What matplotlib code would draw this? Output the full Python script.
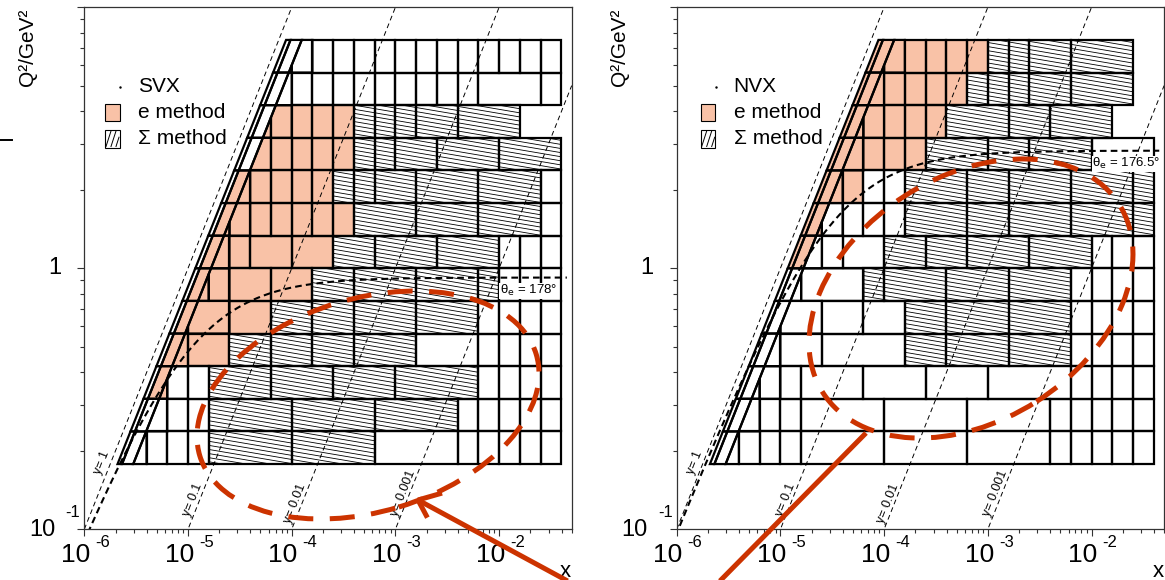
import numpy as np
import matplotlib
matplotlib.use("Agg")
import matplotlib.pyplot as plt
from matplotlib.patches import Polygon, Rectangle, Ellipse
from matplotlib.collections import LineCollection
from matplotlib.lines import Line2D
from matplotlib.transforms import IdentityTransform

plt.rcParams['font.family'] = ['Liberation Sans', 'DejaVu Sans']

W, H, DPI = 1165, 580, 100

# HERA kinematics
S_EP = 1.0e5          # GeV^2
E_BEAM = 27.5         # GeV
Y_OUT, Y_MID, Y_IN = 0.85, 0.77, 0.6

# bin grid: log10(x) = -6 + 0.2 k, log10(Q2) = j / 8
X_START, X_STEP = -6.0, 0.2
Q2_STEP = 0.125
X_LIM = (1e-6, 10 ** -1.3)
Q2_LIM = (0.1, 10.0)

# rows: (j, outer strip, inner strip, x edges in k, method per bin)
# e = electron method, s = Sigma method, o = bin not used
svx_rows = [
    (6, 'o', 'o', [9, 10, 11, 12, 13, 14, 15, 16, 17, 18, 19, 20, 21, 22, 23], 'oooooooooooooo'),
    (5, 'o', 'o', [9, 10, 11, 12, 13, 14, 15, 16, 17, 18, 19, 22, 23], 'oooooooooooo'),
    (4, 'o', 'o', [8, 9, 10, 11, 12, 13, 14, 15, 16, 18, 21], 'eeeeesssss'),
    (3, 'o', 'o', [7, 8, 9, 10, 11, 12, 13, 14, 15, 17, 20, 23], 'eeeeeesssss'),
    (2, 'o', 'e', [7, 8, 9, 10, 11, 12, 13, 14, 16, 19, 22, 23], 'eeeeessssso'),
    (1, 'o', 'e', [6, 7, 8, 9, 10, 11, 12, 13, 16, 19, 22, 23], 'eeeeeeessso'),
    (0, 'o', 'e', [6, 7, 8, 10, 12, 14, 17, 20, 21, 22, 23], 'eeeesssooo'),
    (-1, 'o', 'e', [5, 6, 7, 9, 11, 13, 16, 19, 20, 21, 22, 23], 'eeeessssoooo'),
    (-2, 'o', 'e', [4, 5, 7, 9, 11, 13, 16, 19, 20, 21, 22, 23], 'eeessssoooo'),
    (-3, 'o', 'e', [4, 5, 7, 9, 11, 13, 16, 19, 20, 21, 22, 23], 'eessssooooo'),
    (-4, 'o', 'e', [3, 4, 5, 6, 9, 12, 15, 19, 20, 21, 22, 23], 'eoossssoooo'),
    (-5, 'o', 'o', [2, 3, 4, 5, 6, 10, 14, 18, 19, 20, 21, 22, 23], 'oooosssooooo'),
    (-6, 'o', 'o', [2, 3, 4, 5, 6, 10, 14, 18, 19, 20, 21, 22, 23], 'oooossoooooo'),
]

nvx_rows = [
    (6, 'e', 'e', [9, 10, 11, 12, 13, 14, 15, 16, 17, 19, 22], 'eeeeeessss'),
    (5, 'e', 'e', [9, 10, 11, 12, 13, 14, 15, 16, 17, 19, 22], 'eeeeesssss'),
    (4, 'e', 'e', [8, 9, 10, 11, 12, 13, 16, 18, 21], 'eeeeesss'),
    (3, 'e', 'e', [7, 8, 9, 10, 11, 12, 15, 17, 20, 23], 'eeeeessso'),
    (2, 'e', 'e', [7, 8, 9, 10, 11, 14, 16, 19, 22, 23], 'eeoossssso'),
    (1, 'e', 'e', [6, 7, 8, 9, 10, 11, 14, 16, 19, 22, 23], 'eoooossssso'),
    (0, 'e', 'e', [6, 7, 8, 10, 12, 14, 17, 20, 21, 22, 23], 'ooossssooo'),
    (-1, 'o', 'o', [5, 6, 9, 10, 13, 16, 19, 20, 21, 22, 23], 'oossssoooo'),
    (-2, 'o', 'o', [4, 5, 7, 9, 11, 13, 16, 19, 20, 21, 22, 23], 'oooosssoooo'),
    (-3, 'o', 'o', [4, 5, 7, 11, 13, 16, 19, 20, 21, 22, 23], 'ooosssoooo'),
    (-4, 'o', 'o', [3, 4, 5, 6, 9, 12, 15, 19, 20, 21, 22, 23], 'ooooooooooo'),
    (-5, 'o', 'o', [2, 3, 4, 5, 6, 10, 14, 18, 19, 20, 21, 22, 23], 'oooooooooooo'),
    (-6, 'o', 'o', [2, 3, 4, 5, 6, 10, 14, 18, 19, 20, 21, 22, 23], 'oooooooooooo'),
]

y_lines = [1.0, 0.1, 0.01, 0.001]
y_line_labels = ['y= 1', 'y= 0.1', 'y= 0.01', 'y= 0.001']
y_label_q2 = [0.16, 0.11, 0.104, 0.11]
x_tick_exp = [-6, -5, -4, -3, -2]

E_COLOR = '#f9c2a7'
RED = '#cc3300'

# layout in pixels (from top-left of the image)
AX_TOP, AX_BOTTOM = 7.3, 529.3
AX_W = 487.4
panels = [
    dict(left=84.3, name='SVX', rows=svx_rows, theta=178.0, theta_txt='178°', leg_x=105.0),
    dict(left=676.7, name='NVX', rows=nvx_rows, theta=176.5, theta_txt='176.5°', leg_x=700.7),
]

HATCH_GAP_PX = 4.1
HATCH_SLOPE_PX = -0.17


def clip_poly(pts, c):
    # keep the part of a polygon in (log x, log Q2) with log x - log Q2 >= c
    out = []
    n = len(pts)
    for i in range(n):
        p, q = pts[i], pts[(i + 1) % n]
        fp, fq = p[0] - p[1] - c, q[0] - q[1] - c
        if fp >= 0:
            out.append(p)
        if fp * fq < 0:
            t = fp / (fp - fq)
            out.append((p[0] + t * (q[0] - p[0]), p[1] + t * (q[1] - p[1])))
    return out


def area(pts):
    if len(pts) < 3:
        return 0.0
    a = np.array(pts)
    return 0.5 * abs(np.dot(a[:, 0], np.roll(a[:, 1], 1)) - np.dot(a[:, 1], np.roll(a[:, 0], 1)))


def draw_bin(ax, pts, method):
    if area(pts) < 1e-5:
        return
    xy = 10.0 ** np.array(pts)
    face = E_COLOR if method == 'e' else 'white'
    fill = Polygon(xy, closed=True, facecolor=face, edgecolor='none', zorder=1)
    ax.add_patch(fill)
    if method == 's':
        gap = HATCH_GAP_PX / (AX_BOTTOM - AX_TOP)
        slope = HATCH_SLOPE_PX * AX_W / (AX_BOTTOM - AX_TOP)
        segs = [[(0, b), (1, b + slope)] for b in np.arange(-0.05, 1.25, gap)]
        lc = LineCollection(segs, transform=ax.transAxes, colors='black',
                            linewidths=0.6, zorder=1.5)
        lc.set_clip_path(fill)
        ax.add_collection(lc)
    ax.add_patch(Polygon(xy, closed=True, fill=False, edgecolor='black',
                         linewidth=1.6, joinstyle='miter', zorder=2))


def theta_curve(theta_deg, x):
    qmax = 4 * E_BEAM ** 2 / np.tan(np.radians(theta_deg) / 2) ** 2
    return qmax * S_EP * x / (S_EP * x + qmax), qmax


fig = plt.figure(figsize=(W / DPI, H / DPI), dpi=DPI)

c_out = -np.log10(S_EP * Y_OUT)
c_mid = -np.log10(S_EP * Y_MID)
c_in = -np.log10(S_EP * Y_IN)

for p in panels:
    ax = fig.add_axes([p['left'] / W, (H - AX_BOTTOM) / H, AX_W / W, (AX_BOTTOM - AX_TOP) / H])
    ax.set_xscale('log')
    ax.set_yscale('log')
    ax.set_xlim(*X_LIM)
    ax.set_ylim(*Q2_LIM)

    # bins
    for j, outer, inner, edges, methods in p['rows']:
        v0, v1 = j * Q2_STEP, (j + 1) * Q2_STEP
        draw_bin(ax, [(v0 + c_out, v0), (v0 + c_mid, v0), (v1 + c_mid, v1), (v1 + c_out, v1)], outer)
        draw_bin(ax, [(v0 + c_mid, v0), (v0 + c_in, v0), (v1 + c_in, v1), (v1 + c_mid, v1)], inner)
        for k0, k1, m in zip(edges[:-1], edges[1:], methods):
            u0, u1 = X_START + X_STEP * k0, X_START + X_STEP * k1
            draw_bin(ax, clip_poly([(u0, v0), (u1, v0), (u1, v1), (u0, v1)], c_in), m)

    # lines of constant y
    xs = np.logspace(-6, -1.3, 200)
    ang = np.degrees(np.arctan2((AX_BOTTOM - AX_TOP) / 2.0, AX_W / 4.7))
    for yv, lab, q0 in zip(y_lines, y_line_labels, y_label_q2):
        ax.plot(xs, S_EP * xs * yv, color='black', lw=0.7, ls=(0, (5, 3.5)), zorder=4)
        ax.annotate(lab, xy=(q0 / (S_EP * yv), q0), xytext=(-2 if yv == 1.0 else 0, 0),
                    textcoords='offset pixels', rotation=ang, rotation_mode='anchor',
                    ha='left', va='bottom', fontsize=9, zorder=6)

    # electron polar angle acceptance
    xt = np.logspace(-6.05, np.log10(0.045), 300)
    qt, qmax = theta_curve(p['theta'], xt)
    ax.plot(xt, qt, color='black', lw=1.5, ls=(0, (3.2, 2.0)), zorder=5)
    ax.text(0.0102, qmax * 0.89, 'θ$_{\\mathrm{e}}$ = ' + p['theta_txt'], fontsize=9.5,
            ha='left', va='center', zorder=6,
            bbox=dict(facecolor='white', edgecolor='none', pad=0.5))

    # axes frame and ticks
    for side in ['top', 'right', 'left', 'bottom']:
        ax.spines[side].set_linewidth(0.9)
        ax.spines[side].set_color('#333333')
        ax.spines[side].set_zorder(7)
    ax.tick_params(which='both', direction='out', top=False, right=False,
                   labelbottom=False, labelleft=False, width=0.8, color='#333333')
    ax.tick_params(which='major', length=5)
    ax.tick_params(which='minor', length=3)

    for e in x_tick_exp:
        ax.annotate('10', xy=(10.0 ** e, 0), xycoords=('data', 'axes fraction'),
                    xytext=(6, -26), textcoords='offset pixels', ha='right', va='center', fontsize=19)
        ax.annotate(str(e), xy=(10.0 ** e, 0), xycoords=('data', 'axes fraction'),
                    xytext=(11, -13), textcoords='offset pixels', ha='left', va='center', fontsize=12)
    ax.annotate('1', xy=(0, 1.0), xycoords=('axes fraction', 'data'), xytext=(-23, 0),
                textcoords='offset pixels', ha='right', va='center', fontsize=17)
    ax.annotate('10', xy=(0, 0.1), xycoords=('axes fraction', 'data'), xytext=(-29, -1),
                textcoords='offset pixels', ha='right', va='center', fontsize=17)
    ax.annotate('-1', xy=(0, 0.1), xycoords=('axes fraction', 'data'), xytext=(-4, 17),
                textcoords='offset pixels', ha='right', va='center', fontsize=12)
    ax.annotate('x', xy=(1, 0), xycoords='axes fraction', xytext=(-6, -42),
                textcoords='offset pixels', ha='center', va='center', fontsize=16)
    ax.annotate('Q²/GeV²', xy=(0, 1), xycoords='axes fraction', xytext=(-57, -1),
                textcoords='offset pixels', rotation=90, rotation_mode='anchor',
                ha='right', va='center', fontsize=15)

    # legend
    lx = p['leg_x']
    tx = lx + 33
    fig.add_artist(Line2D([(lx + 15) / W], [1 - 87 / H], marker='.', markersize=1.5,
                          color='black', transform=fig.transFigure))
    fig.text(tx / W, 1 - 87 / H, p['name'], fontsize=15, ha='left', va='center')
    fig.add_artist(Rectangle((lx / W, 1 - 121 / H), 14.5 / W, 17.5 / H, facecolor=E_COLOR,
                             edgecolor='black', linewidth=0.8, transform=fig.transFigure))
    fig.text(tx / W, 1 - 113 / H, 'e method', fontsize=15, ha='left', va='center')
    box_b, box_t = 147.5, 130.0
    fig.add_artist(Rectangle((lx / W, 1 - box_b / H), 14.5 / W, 17.5 / H, facecolor='white',
                             edgecolor='black', linewidth=0.8, transform=fig.transFigure))
    for d in [0.0, 5.0, 10.0]:
        x0, x1 = lx + 1 + d, lx + 6 + d
        y0, y1 = box_b - 1, box_t + 1
        if x1 > lx + 14:
            y1 = y0 - (y0 - y1) * (lx + 14 - x0) / (x1 - x0)
            x1 = lx + 14
        fig.add_artist(Line2D([x0 / W, x1 / W], [1 - y0 / H, 1 - y1 / H], color='black',
                              lw=0.7, transform=fig.transFigure))
    fig.text(tx / W, 1 - 139 / H, 'Σ method', fontsize=15, ha='left', va='center')

# highlighted regions
red_dash = dict(fill=False, edgecolor=RED, linewidth=3.6, linestyle=(0, (5, 3.3)),
                transform=IdentityTransform(), zorder=10)
fig.add_artist(Ellipse((368, H - 405), 2 * 175.7, 2 * 106.6, angle=16.8, **red_dash))
fig.add_artist(Ellipse((971, H - 298.5), 2 * 175.5, 2 * 122.1, angle=32.4, **red_dash))

red_line = dict(color=RED, linewidth=3.6, solid_capstyle='butt', transform=IdentityTransform(), zorder=10)
tip = np.array([418.0, 500.0])
fig.add_artist(Line2D([tip[0], 575], [H - tip[1], H - 585], **red_line))
for a_deg, ln in [(-16.0, 25.0), (62.0, 20.0)]:
    end = tip + ln * np.array([np.cos(np.radians(a_deg)), np.sin(np.radians(a_deg))])
    fig.add_artist(Line2D([tip[0], end[0]], [H - tip[1], H - end[1]], **red_line))
fig.add_artist(Line2D([866, 713], [H - 433, H - 588], **red_line))

# fragment of the neighbouring panel at the left edge
fig.add_artist(Line2D([0, 12 / W], [1 - 140 / H, 1 - 140 / H], color='black', lw=1.4,
                      transform=fig.transFigure))

fig.savefig('out.png', dpi=DPI)
